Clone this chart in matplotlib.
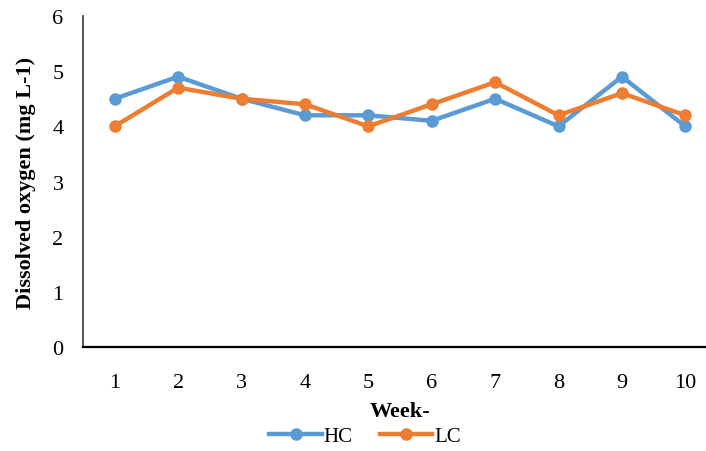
import matplotlib
matplotlib.use("Agg")
import matplotlib.pyplot as plt

weeks = [1, 2, 3, 4, 5, 6, 7, 8, 9, 10]
hc = [4.5, 4.9, 4.5, 4.2, 4.2, 4.1, 4.5, 4.0, 4.9, 4.0]
lc = [4.0, 4.7, 4.5, 4.4, 4.0, 4.4, 4.8, 4.2, 4.6, 4.2]
y_ticks = [0, 1, 2, 3, 4, 5, 6]

plt.rcParams['font.family'] = ['Liberation Serif', 'DejaVu Serif']

fig = plt.figure(figsize=(7.06, 4.52), dpi=100)
ax = fig.add_axes([83 / 706, 104 / 452, 634 / 706, 331 / 452])

ax.plot(weeks, hc, color='#5B9BD5', lw=3.2, marker='o', ms=8, label='HC')
ax.plot(weeks, lc, color='#ED7D31', lw=3.2, marker='o', ms=8, label='LC')

ax.set_xlim(0.5, 10.5)
ax.set_ylim(0, 6)
ax.set_xticks(weeks)
ax.set_yticks(y_ticks)
ax.tick_params(axis='both', length=0, labelsize=16)
ax.tick_params(axis='x', pad=19)
ax.tick_params(axis='y', pad=14)

for s in ['top', 'right']:
    ax.spines[s].set_visible(False)
ax.spines['left'].set_color('#333333')
ax.spines['left'].set_linewidth(1.2)
ax.spines['bottom'].set_color('#000000')
ax.spines['bottom'].set_linewidth(1.6)

ax.set_ylabel('Dissolved oxygen (mg L-1)', fontsize=16, fontweight='bold', labelpad=12)
fig.text(400 / 706, 1 - 412 / 452, 'Week-', ha='center', va='center',
         fontsize=16, fontweight='bold')

fig.legend(loc='center', bbox_to_anchor=(365 / 706, 1 - 437 / 452), ncol=2,
           frameon=False, fontsize=15, handlelength=2.5, columnspacing=1.3,
           handletextpad=0.1, borderaxespad=0)

fig.savefig('out.png', dpi=100)
